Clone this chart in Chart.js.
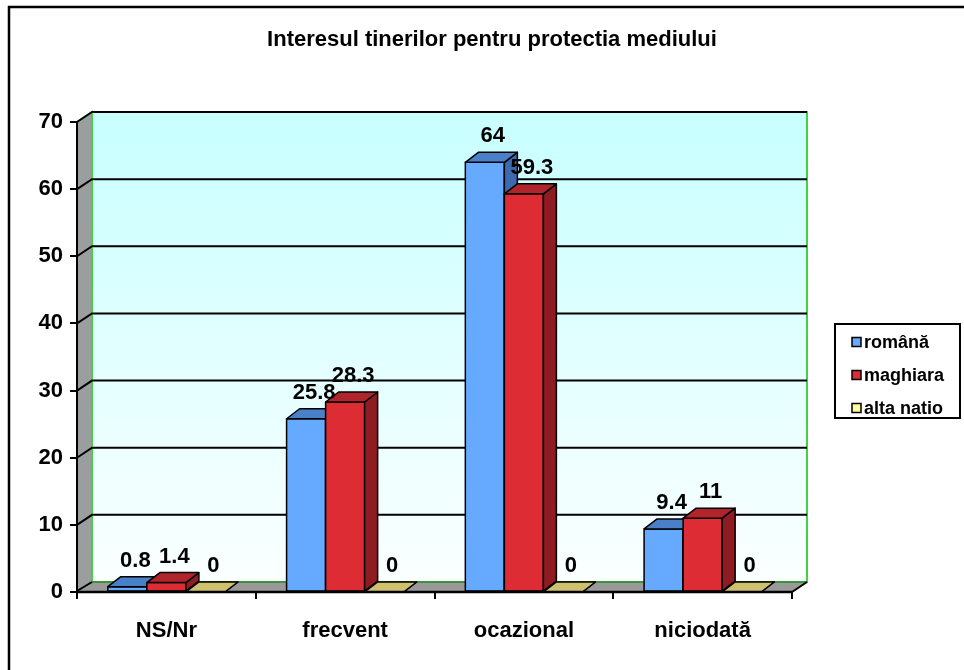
<!DOCTYPE html>
<html>
<head>
<meta charset="utf-8">
<script src="https://cdn.jsdelivr.net/npm/chart.js@4.4.1/dist/chart.umd.min.js"></script>
<style>
  html, body { margin: 0; padding: 0; background: #fff; }
  #wrap { width: 964px; height: 670px; }
</style>
</head>
<body>
<div id="wrap"><canvas id="myChart" width="964" height="670"></canvas></div>
<script>
const TITLE = 'Interesul tinerilor pentru protectia mediului';
const categories = ['NS/Nr', 'frecvent', 'ocazional', 'niciodată'];
const romana = [0.8, 25.8, 64, 9.4];
const maghiara = [1.4, 28.3, 59.3, 11];
const altaNatio = [0, 0, 0, 0];
const seriesNames = ['română', 'maghiara', 'alta natio'];
const yMax = 70;
const yStep = 10;

const FONT = '"Liberation Sans", Arial, sans-serif';
const WALL_DX = 15, WALL_DY = 10;   // depth of the back wall
const BAR_DX = 13, BAR_DY = 10;     // depth of each bar

// front / top / side colours for each series
const faces = [
    { front: '#66aaff', top: '#4a80c8', side: '#3d6aae', legend: '#66aaff' },
    { front: '#dd2c34', top: '#b0242c', side: '#8e1c22', legend: '#dd2c34' },
    { front: '#fff29a', top: '#cfc070', side: '#a89a58', legend: '#ffff99' },
];

function poly(ctx, pts, fill, stroke, lw) {
    ctx.beginPath();
    ctx.moveTo(pts[0][0], pts[0][1]);
    for (let i = 1; i < pts.length; i++) ctx.lineTo(pts[i][0], pts[i][1]);
    ctx.closePath();
    if (fill) { ctx.fillStyle = fill; ctx.fill(); }
    if (stroke) { ctx.strokeStyle = stroke; ctx.lineWidth = lw || 1; ctx.stroke(); }
}

const walls3d = {
    id: 'walls3d',
    beforeDraw(chart) {
        const { ctx, chartArea: a, scales } = chart;
        const y = scales.y;
        ctx.save();
        // outer frame (left and top only, like the original)
        ctx.strokeStyle = '#000';
        ctx.lineWidth = 2.5;
        ctx.beginPath();
        ctx.moveTo(9, 670); ctx.lineTo(9, 7); ctx.lineTo(964, 7);
        ctx.stroke();

        const L = a.left, R = a.right, T = a.top, B = a.bottom;
        // side wall
        poly(ctx, [[L, T], [L + WALL_DX, T - WALL_DY], [L + WALL_DX, B - WALL_DY], [L, B]], '#9a9e9e', '#44d044', 2);
        // back wall
        const g = ctx.createLinearGradient(0, T - WALL_DY, 0, B - WALL_DY);
        g.addColorStop(0, '#c8ffff');
        g.addColorStop(1, '#fbffff');
        poly(ctx, [[L + WALL_DX, T - WALL_DY], [R + WALL_DX, T - WALL_DY], [R + WALL_DX, B - WALL_DY], [L + WALL_DX, B - WALL_DY]], g, '#44d044', 2);

        // grid lines on walls
        ctx.strokeStyle = '#000';
        ctx.lineWidth = 2;
        for (let v = yStep; v <= yMax; v += yStep) {
            const yf = y.getPixelForValue(v);
            ctx.beginPath();
            ctx.moveTo(L, yf);
            ctx.lineTo(L + WALL_DX, yf - WALL_DY);
            ctx.lineTo(R + WALL_DX, yf - WALL_DY);
            ctx.stroke();
        }
        // floor
        poly(ctx, [[L, B], [R, B], [R + WALL_DX, B - WALL_DY], [L + WALL_DX, B - WALL_DY]], '#999999', null);
        ctx.strokeStyle = '#2a8a2a';
        ctx.lineWidth = 1.5;
        ctx.beginPath();
        ctx.moveTo(L + WALL_DX, B - WALL_DY); ctx.lineTo(R + WALL_DX, B - WALL_DY);
        ctx.stroke();
        ctx.strokeStyle = '#000';
        ctx.lineWidth = 2;
        ctx.beginPath();
        ctx.moveTo(L, B - 1); ctx.lineTo(L + WALL_DX, B - WALL_DY);
        ctx.moveTo(R, B); ctx.lineTo(R + WALL_DX, B - WALL_DY);
        ctx.stroke();
        ctx.restore();
    },

    afterDatasetsDraw(chart) {
        const { ctx } = chart;
        ctx.save();
        ctx.lineJoin = 'round';
        // draw series in order so the next bar hides the previous one's side
        chart.data.datasets.forEach((ds, di) => {
            const meta = chart.getDatasetMeta(di);
            const c = faces[di];
            meta.data.forEach(bar => {
                const { x, y, base, width } = bar.getProps(['x', 'y', 'base', 'width'], true);
                const l = x - width / 2, r = x + width / 2;
                poly(ctx, [[l, y], [r, y], [r, base], [l, base]], c.front, '#000', 1.5);
                poly(ctx, [[r, y], [r + BAR_DX, y - BAR_DY], [r + BAR_DX, base - BAR_DY], [r, base]], c.side, '#000', 1.5);
                poly(ctx, [[l, y], [r, y], [r + BAR_DX, y - BAR_DY], [l + BAR_DX, y - BAR_DY]], c.top, '#000', 1.5);
            });
        });
        // value labels
        ctx.fillStyle = '#000';
        ctx.font = 'bold 22px ' + FONT;
        ctx.textAlign = 'center';
        ctx.textBaseline = 'middle';
        chart.data.datasets.forEach((ds, di) => {
            chart.getDatasetMeta(di).data.forEach((bar, i) => {
                const { x, y } = bar.getProps(['x', 'y'], true);
                ctx.fillText(String(ds.data[i]), x + 8, y - 26);
            });
        });
        ctx.restore();
    },

    afterDraw(chart) {
        const { ctx, chartArea: a } = chart;
        ctx.save();
        // front axis edge
        ctx.strokeStyle = '#000';
        ctx.lineWidth = 2.5;
        ctx.beginPath();
        ctx.moveTo(a.left, a.bottom); ctx.lineTo(a.right, a.bottom);
        ctx.stroke();

        // title
        ctx.fillStyle = '#000';
        ctx.font = 'bold 22px ' + FONT;
        ctx.textAlign = 'center';
        ctx.textBaseline = 'middle';
        ctx.fillText(TITLE, 492, 40);

        // legend
        ctx.lineWidth = 2;
        ctx.strokeRect(835, 324, 125, 94);
        ctx.font = 'bold 18px ' + FONT;
        ctx.textAlign = 'left';
        seriesNames.forEach((name, i) => {
            const cy = 342 + i * 33;
            ctx.fillStyle = faces[i].legend;
            ctx.fillRect(852, cy - 4.5, 9, 9);
            ctx.lineWidth = 1.5;
            ctx.strokeStyle = '#000';
            ctx.strokeRect(852, cy - 4.5, 9, 9);
            ctx.fillStyle = '#000';
            ctx.fillText(name, 864, cy + 1);
        });
        ctx.restore();
    }
};

new Chart(document.getElementById('myChart'), {
    type: 'bar',
    data: {
        labels: categories,
        datasets: [
            { label: seriesNames[0], data: romana, backgroundColor: faces[0].front },
            { label: seriesNames[1], data: maghiara, backgroundColor: faces[1].front },
            { label: seriesNames[2], data: altaNatio, backgroundColor: faces[2].front },
        ]
    },
    options: {
        responsive: false,
        animation: false,
        maintainAspectRatio: false,
        layout: { padding: { top: 122, right: 172, bottom: 0, left: 0 } },
        datasets: { bar: { categoryPercentage: 0.655, barPercentage: 1, borderWidth: 0 } },
        plugins: {
            legend: { display: false },
            title: { display: false },
            tooltip: { enabled: false }
        },
        scales: {
            x: {
                afterFit(scale) { scale.height = 78; },
                grid: { offset: true, drawOnChartArea: false, tickLength: 7, color: '#000', lineWidth: 2 },
                border: { display: false },
                ticks: { color: '#000', padding: 19, font: { family: FONT, size: 22, weight: 'bold' } }
            },
            y: {
                min: 0,
                max: yMax,
                afterFit(scale) { scale.width = 77; },
                grid: { drawOnChartArea: false, tickLength: 7, color: '#000', lineWidth: 2 },
                border: { display: true, color: '#000', width: 2 },
                ticks: { stepSize: yStep, color: '#000', padding: 7, font: { family: FONT, size: 22, weight: 'bold' } }
            }
        }
    },
    plugins: [walls3d]
});
</script>
</body>
</html>
